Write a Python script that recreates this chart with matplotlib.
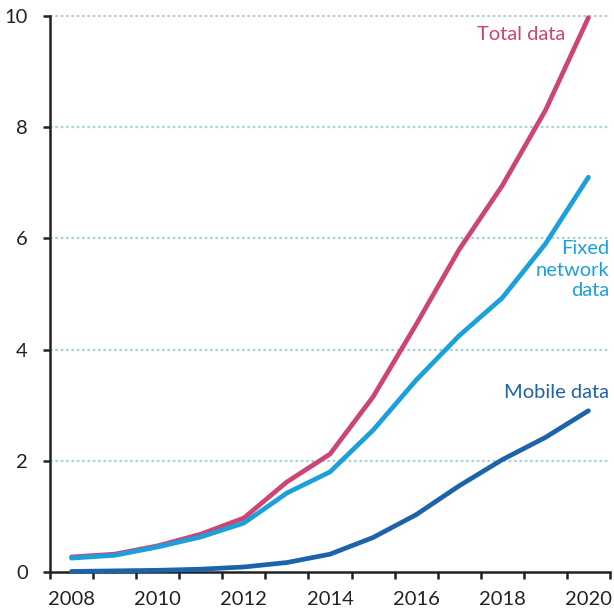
import numpy as np
import matplotlib
matplotlib.use("Agg")
import matplotlib.pyplot as plt
from matplotlib.ticker import FixedLocator, NullFormatter

years = [2008, 2009, 2010, 2011, 2012, 2013, 2014, 2015, 2016, 2017, 2018, 2019, 2020]
total_data = [0.27, 0.32, 0.47, 0.68, 0.97, 1.62, 2.12, 3.15, 4.45, 5.8, 6.95, 8.3, 9.97]
fixed_data = [0.25, 0.30, 0.45, 0.63, 0.88, 1.42, 1.8, 2.55, 3.45, 4.25, 4.93, 5.9, 7.1]
mobile_data = [0.01, 0.02, 0.03, 0.05, 0.09, 0.17, 0.32, 0.62, 1.03, 1.55, 2.02, 2.42, 2.9]
year_labels = ["2008", "2010", "2012", "2014", "2016", "2018", "2020"]

PINK = "#cc4576"
LIGHT = "#1ba0db"
DARK = "#1d63aa"

plt.rcParams["font.family"] = ["Lato", "DejaVu Sans"]

fig = plt.figure(figsize=(6.14, 6.13), dpi=100)
ax = fig.add_axes([0.0814, 0.0669, 0.912, 0.907])

x = np.arange(len(years))
ax.plot(x, total_data, color=PINK, lw=3.4, solid_capstyle="round", clip_on=False, zorder=3)
ax.plot(x, fixed_data, color=LIGHT, lw=3.4, solid_capstyle="round", clip_on=False, zorder=3)
ax.plot(x, mobile_data, color=DARK, lw=3.4, solid_capstyle="round", clip_on=False, zorder=4)

ax.set_xlim(-0.5, len(years) - 0.5)
ax.set_ylim(0, 10)

# year boundaries carry the tick marks, labels sit in the middle of each year
ax.xaxis.set_major_locator(FixedLocator(np.arange(-0.5, len(years), 1.0)))
ax.xaxis.set_major_formatter(NullFormatter())
ax.xaxis.set_minor_locator(FixedLocator(x[::2]))
ax.set_xticklabels(year_labels, minor=True)
ax.tick_params(axis="x", which="major", direction="out", length=5, width=1.8, color="#222222")
ax.tick_params(axis="x", which="minor", length=0, pad=14, labelsize=14.5, labelcolor="#222222")

ax.set_yticks([0, 2, 4, 6, 8, 10])
ax.tick_params(axis="y", direction="out", length=5, width=1.8, color="#222222",
               pad=11, labelsize=14.5, labelcolor="#222222")

for y in [2, 4, 6, 8, 10]:
    ax.axhline(y, color="#a9d0de", lw=1.6, ls=(0, (1.2, 1.2)), zorder=1, clip_on=False)

for s in ["top", "right"]:
    ax.spines[s].set_visible(False)
for s in ["left", "bottom"]:
    ax.spines[s].set_linewidth(1.8)
    ax.spines[s].set_color("#222222")

fig.text(565 / 614, 1 - 34 / 613, "Total data", color=PINK, fontsize=14.5, ha="right", va="center")
fig.text(609 / 614, 1 - 249 / 613, "Fixed", color=LIGHT, fontsize=14.5, ha="right", va="center")
fig.text(609 / 614, 1 - 270 / 613, "network", color=LIGHT, fontsize=14.5, ha="right", va="center")
fig.text(609 / 614, 1 - 291 / 613, "data", color=LIGHT, fontsize=14.5, ha="right", va="center")
fig.text(609 / 614, 1 - 393 / 613, "Mobile data", color=DARK, fontsize=14.5, ha="right", va="center")

fig.savefig("out.png", dpi=100)
